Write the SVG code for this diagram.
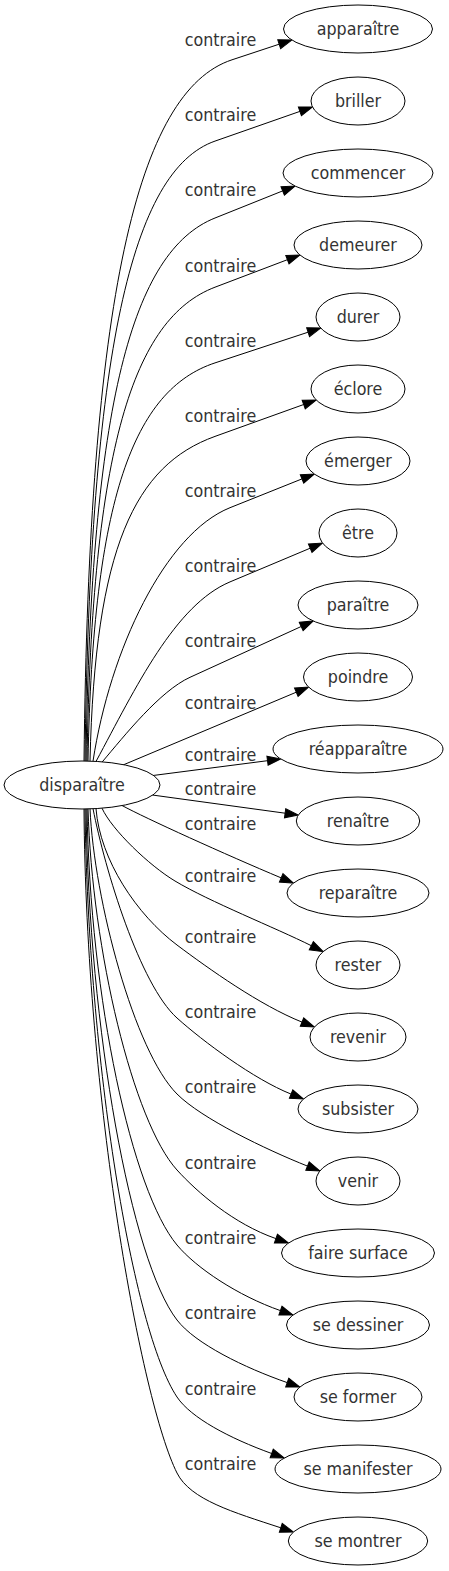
<svg xmlns="http://www.w3.org/2000/svg" width="449" height="1571" viewBox="0 0 449 1571">
<style>
.n ellipse{fill:#fff;stroke:#000;stroke-width:1}
text{font-family:"DejaVu Sans Condensed","DejaVu Sans",sans-serif;font-stretch:condensed;font-size:17.7px;fill:#333;text-anchor:middle}
.e path{fill:none;stroke:#000;stroke-width:1;marker-end:url(#ah)}
</style>
<defs>
<marker id="ah" viewBox="0 0 14 10" refX="0" refY="5" markerWidth="14" markerHeight="10" markerUnits="userSpaceOnUse" orient="auto" overflow="visible"><path d="M0,0.4 L13.3,5 L0,9.6 Z" fill="#000" stroke="#000" stroke-width="1"/></marker>
</defs>
<rect width="449" height="1571" fill="#fff"/>
<g class="e" id="edges">
<path d="M84,761 C89,300 137,91.1 232,59.8 L279.2,44.2"/>
<path d="M85,761 C90,352 131.8,170.2 215,141.1 L299.9,111.4"/>
<path d="M86,761 C91,402.9 132.4,251 215,218 L282.7,190.9"/>
<path d="M87,761 C92,448.6 133.1,318.3 215,287.2 L287.4,259.7"/>
<path d="M88,761 C93,498.5 133.7,389.7 215,362.9 L308.1,332.2"/>
<path d="M90,761 C95,547.1 135,465.2 215,436.4 L303.7,404.5"/>
<path d="M93,761.2 C110,650 165,533.7 230,507.7 L302,478.9"/>
<path d="M96,761.5 C136,687 175,605 230,581.9 L310.2,548.2"/>
<path d="M102,762.2 C125,735 160,691 190,677.3 L301.2,626.5"/>
<path d="M123,765 L296.3,692.2"/>
<path d="M153,775.5 L267.5,760.7"/>
<path d="M152.3,795 L285.1,813.2"/>
<path d="M122,805.5 C145,818 225.9,854.7 281.2,877.9"/>
<path d="M102,808.2 C112,830 149.3,865.6 175,881 C209.3,901.6 275.5,927.8 311.3,945.7"/>
<path d="M96,808.7 C100,860 137,915 177,945 C209,969 260.2,1005.4 302,1022.1"/>
<path d="M93,808.6 C105,870 139.9,984.6 177,1018 C203,1041.4 254,1079.3 291.1,1094.1"/>
<path d="M90,808.5 C94,900 134.6,1051.6 177,1094 C201.7,1118.7 265.7,1149.4 307.5,1166.1"/>
<path d="M88,808.4 C92,950 133.3,1121.9 177,1170 C197.2,1192.2 233.4,1223.8 275.9,1238.6"/>
<path d="M87,808.4 C90,1000 132.2,1191.2 177,1245 C196.2,1268 238,1295.8 280.4,1310.6"/>
<path d="M86,808.3 C89,1030 131.2,1260.5 177,1320 C195.3,1343.8 244.7,1367.8 287.2,1382.6"/>
<path d="M85,808.3 C88,1060 132.6,1330.4 177,1397 C190.9,1417.8 229.4,1438.2 271.7,1453.5"/>
<path d="M84,808.3 C86,1100 141.2,1401.5 177,1473 C190.4,1499.8 233.3,1512.2 280.8,1527.8"/>
</g>
<g id="edge-labels">
<text x="220.5" y="46">contraire</text>
<text x="220.5" y="121">contraire</text>
<text x="220.5" y="196">contraire</text>
<text x="220.5" y="272">contraire</text>
<text x="220.5" y="347">contraire</text>
<text x="220.5" y="422">contraire</text>
<text x="220.5" y="497">contraire</text>
<text x="220.5" y="572">contraire</text>
<text x="220.5" y="647">contraire</text>
<text x="220.5" y="709">contraire</text>
<text x="220.5" y="761">contraire</text>
<text x="220.5" y="795">contraire</text>
<text x="220.5" y="830">contraire</text>
<text x="220.5" y="882">contraire</text>
<text x="220.5" y="943">contraire</text>
<text x="220.5" y="1018">contraire</text>
<text x="220.5" y="1093">contraire</text>
<text x="220.5" y="1169">contraire</text>
<text x="220.5" y="1244">contraire</text>
<text x="220.5" y="1319">contraire</text>
<text x="220.5" y="1395">contraire</text>
<text x="220.5" y="1470">contraire</text>
</g>
<g class="n" id="n-disparaitre"><ellipse cx="82" cy="785" rx="78" ry="24"/><text x="82" y="791">disparaître</text></g>
<g class="n" id="n-apparaitre"><ellipse cx="358" cy="29" rx="74.5" ry="24"/><text x="358" y="35">apparaître</text></g>
<g class="n" id="n-briller"><ellipse cx="358" cy="101" rx="47" ry="24"/><text x="358" y="107">briller</text></g>
<g class="n" id="n-commencer"><ellipse cx="358" cy="173" rx="75" ry="24"/><text x="358" y="179">commencer</text></g>
<g class="n" id="n-demeurer"><ellipse cx="358" cy="245" rx="64" ry="24"/><text x="358" y="251">demeurer</text></g>
<g class="n" id="n-durer"><ellipse cx="358" cy="317" rx="42" ry="24"/><text x="358" y="323">durer</text></g>
<g class="n" id="n-eclore"><ellipse cx="358" cy="389" rx="47" ry="24"/><text x="358" y="395">éclore</text></g>
<g class="n" id="n-emerger"><ellipse cx="358" cy="461" rx="52" ry="24"/><text x="358" y="467">émerger</text></g>
<g class="n" id="n-etre"><ellipse cx="358" cy="533" rx="39" ry="24"/><text x="358" y="539">être</text></g>
<g class="n" id="n-paraitre"><ellipse cx="358" cy="605" rx="60" ry="24"/><text x="358" y="611">paraître</text></g>
<g class="n" id="n-poindre"><ellipse cx="358" cy="677" rx="54.5" ry="24"/><text x="358" y="683">poindre</text></g>
<g class="n" id="n-reapparaitre"><ellipse cx="358" cy="749" rx="85" ry="24"/><text x="358" y="755">réapparaître</text></g>
<g class="n" id="n-renaitre"><ellipse cx="358" cy="821" rx="61.7" ry="24"/><text x="358" y="827">renaître</text></g>
<g class="n" id="n-reparaitre"><ellipse cx="358" cy="893" rx="71" ry="24"/><text x="358" y="899">reparaître</text></g>
<g class="n" id="n-rester"><ellipse cx="358" cy="965" rx="42" ry="24"/><text x="358" y="971">rester</text></g>
<g class="n" id="n-revenir"><ellipse cx="358" cy="1037" rx="48" ry="24"/><text x="358" y="1043">revenir</text></g>
<g class="n" id="n-subsister"><ellipse cx="358" cy="1109" rx="60" ry="24"/><text x="358" y="1115">subsister</text></g>
<g class="n" id="n-venir"><ellipse cx="358" cy="1181" rx="42" ry="24"/><text x="358" y="1187">venir</text></g>
<g class="n" id="n-faire-surface"><ellipse cx="358" cy="1253" rx="76.5" ry="24"/><text x="358" y="1259">faire surface</text></g>
<g class="n" id="n-se-dessiner"><ellipse cx="358" cy="1325" rx="71.5" ry="24"/><text x="358" y="1331">se dessiner</text></g>
<g class="n" id="n-se-former"><ellipse cx="358" cy="1397" rx="64" ry="24"/><text x="358" y="1403">se former</text></g>
<g class="n" id="n-se-manifester"><ellipse cx="358" cy="1469" rx="83" ry="24"/><text x="358" y="1475">se manifester</text></g>
<g class="n" id="n-se-montrer"><ellipse cx="358" cy="1541" rx="69.7" ry="24"/><text x="358" y="1547">se montrer</text></g>
</svg>
